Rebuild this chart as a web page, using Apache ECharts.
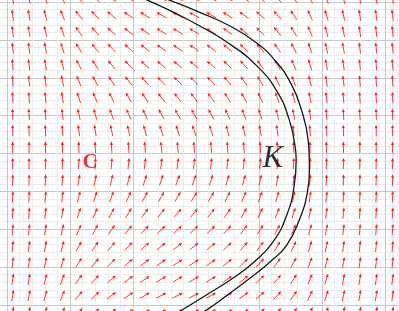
<!DOCTYPE html>
<html>
<head>
<meta charset="utf-8">
<script src="https://cdn.jsdelivr.net/npm/echarts@6/dist/echarts.min.js"></script>
<style>
html, body { margin: 0; padding: 0; background: #fff; }
#main { width: 399px; height: 311px; }
</style>
</head>
<body>
<div id="main"></div>
<script>
// arrow grid (data units)
var colX = [-2.91, -2.65, -2.39, -2.12, -1.86, -1.60, -1.34, -1.07, -0.81, -0.55, -0.29, -0.03,
            0.24, 0.50, 0.76, 1.02, 1.29, 1.55, 1.81, 2.07, 2.34, 2.60, 2.86, 3.12];
var rowY = [4.10, 3.66, 3.23, 2.79, 2.35, 1.92, 1.48, 1.04, 0.61, 0.17,
            -0.26, -0.70, -1.14, -1.57, -2.01, -2.45, -2.88, -3.32, -3.75, -4.19];
// arrow tilt in degrees from straight up (+ = leans left), one row per rowY
var angles = [
  [9, 12, 17, 24, 42, 49, 54, 59, 62, 64, 65, 65, 64, 61, 57, 52, 46, 38, 28, 19, 14, 11, 9, 8],
  [8, 10, 15, 22, 39, 46, 51, 56, 59, 61, 63, 63, 61, 58, 54, 49, 42, 35, 25, 17, 12, 10, 8, 7],
  [7, 9, 14, 20, 35, 42, 48, 52, 56, 58, 60, 60, 58, 55, 50, 45, 39, 31, 23, 15, 11, 9, 7, 6],
  [6, 8, 12, 17, 32, 38, 44, 48, 52, 54, 56, 56, 54, 51, 46, 41, 35, 28, 20, 13, 10, 8, 6, 6],
  [5, 7, 10, 15, 27, 33, 39, 43, 47, 50, 51, 51, 50, 46, 41, 36, 30, 24, 17, 11, 8, 6, 5, 5],
  [4, 5, 8, 12, 23, 28, 33, 38, 41, 44, 46, 46, 44, 40, 35, 31, 26, 20, 14, 9, 7, 5, 4, 4],
  [3, 4, 6, 9, 18, 23, 27, 31, 34, 37, 38, 38, 37, 33, 29, 25, 20, 16, 11, 7, 5, 4, 3, 3],
  [2, 3, 5, 7, 13, 16, 20, 23, 26, 28, 29, 29, 28, 25, 21, 18, 15, 11, 8, 5, 4, 3, 2, 2],
  [1, 2, 3, 4, 8, 10, 12, 14, 16, 17, 18, 18, 17, 15, 13, 11, 9, 7, 5, 3, 2, 2, 1, 1],
  [0, 0, 1, 1, 2, 3, 3, 4, 4, 5, 5, 5, 5, 4, 4, 3, 2, 2, 1, 1, 1, 0, 0, 0],
  [-1, -1, -1, -2, -3, -4, -5, -6, -7, -7, -8, -8, -7, -7, -6, -5, -4, -3, -2, -1, -1, -1, -1, -1],
  [-2, -2, -3, -4, -9, -11, -13, -16, -18, -19, -20, -20, -19, -17, -15, -12, -10, -8, -5, -3, -2, -2, -2, -1],
  [-3, -3, -5, -7, -14, -18, -21, -25, -28, -30, -31, -31, -30, -27, -23, -20, -16, -12, -8, -6, -4, -3, -3, -2],
  [-4, -4, -7, -10, -19, -24, -28, -32, -36, -38, -40, -40, -38, -35, -30, -26, -21, -17, -12, -8, -5, -4, -4, -3],
  [-5, -6, -9, -13, -24, -29, -34, -39, -43, -45, -47, -47, -45, -42, -37, -32, -27, -21, -15, -10, -7, -5, -5, -4],
  [-6, -7, -10, -15, -28, -35, -40, -44, -48, -51, -52, -52, -51, -47, -42, -37, -31, -25, -18, -12, -8, -7, -6, -5],
  [-7, -8, -12, -18, -32, -39, -44, -49, -53, -55, -57, -57, -55, -52, -47, -42, -36, -29, -21, -14, -10, -8, -7, -6],
  [-8, -9, -14, -20, -36, -43, -49, -53, -57, -59, -60, -60, -59, -56, -51, -46, -40, -32, -23, -16, -11, -9, -8, -7],
  [-9, -11, -16, -22, -40, -46, -52, -56, -60, -62, -63, -63, -62, -59, -54, -49, -43, -35, -26, -18, -13, -10, -9, -7],
  [-10, -12, -17, -25, -43, -50, -55, -59, -63, -65, -66, -66, -65, -62, -57, -52, -46, -39, -29, -20, -14, -11, -10, -8]
];
// the two black curves of K
var curveInner = [[-1.21, 4.39], [-0.78, 4.06], [-0.33, 3.71], [0.06, 3.37], [0.54, 2.89], [0.97, 2.31],
                  [1.29, 1.63], [1.48, 0.89], [1.57, 0.22], [1.59, -0.17], [1.56, -0.83], [1.44, -1.63],
                  [1.22, -2.34], [0.94, -2.84], [0.59, -3.29], [0.19, -3.71], [-0.25, -4.16], [-0.65, -4.53]];
var curveOuter = [[-0.89, 4.36], [-0.43, 4.06], [0.06, 3.73], [0.54, 3.37], [0.94, 2.95], [1.25, 2.47],
                  [1.51, 1.84], [1.68, 1.12], [1.78, 0.36], [1.80, -0.25], [1.76, -1.10], [1.65, -1.71],
                  [1.44, -2.42], [1.17, -2.87], [0.86, -3.29], [0.52, -3.71], [0.19, -4.11], [-0.21, -4.51]];
var labelK = ['K', 1.22, -0.15];
var labelC = ['C', -1.68, -0.23];

var myChart = echarts.init(document.getElementById('main'));

var arrowData = [];
rowY.forEach(function (y, r) {
    colX.forEach(function (x, c) {
        arrowData.push([x, y, angles[r][c]]);
    });
});

function renderArrow(params, api) {
    var p = api.coord([api.value(0), api.value(1)]);
    var a = api.value(2) * Math.PI / 180;
    var dx = -Math.sin(a), dy = -Math.cos(a);
    var len = 11.5, head = 3.6, half = 1.6;
    var x0 = p[0] - dx * len / 2, y0 = p[1] - dy * len / 2;
    var x1 = p[0] + dx * len / 2, y1 = p[1] + dy * len / 2;
    var bx = x1 - dx * head, by = y1 - dy * head;
    return {
        type: 'group',
        children: [{
            type: 'line',
            shape: { x1: x0, y1: y0, x2: bx, y2: by },
            style: { stroke: '#ff2020', lineWidth: 0.9 }
        }, {
            type: 'polygon',
            shape: { points: [[x1, y1], [bx - dy * half, by + dx * half], [bx + dy * half, by - dx * half]] },
            style: { fill: '#ff2020' }
        }]
    };
}

var option = {
    animation: false,
    // the plot area runs past the canvas so that integer grid lines land where they are in the picture
    grid: { left: -56, right: -49, top: -35.7, bottom: -31.8, outerBoundsMode: 'none' },
    xAxis: {
        type: 'value', min: -4, max: 4, interval: 1,
        axisLine: { show: false }, axisTick: { show: false }, axisLabel: { show: false },
        splitLine: { show: true, lineStyle: { color: '#c9c9c9', width: 1 } },
        minorTick: { show: false, splitNumber: 5 },
        minorSplitLine: { show: true, lineStyle: { color: '#ededed', width: 1 } }
    },
    yAxis: {
        type: 'value', min: -5, max: 5, interval: 1,
        axisLine: { show: false }, axisTick: { show: false }, axisLabel: { show: false },
        splitLine: { show: true, lineStyle: { color: '#c9c9c9', width: 1 } },
        minorTick: { show: false, splitNumber: 5 },
        minorSplitLine: { show: true, lineStyle: { color: '#ededed', width: 1 } }
    },
    series: [{
        type: 'custom',
        renderItem: renderArrow,
        data: arrowData,
        z: 2
    }, {
        type: 'line',
        data: curveInner,
        smooth: true,
        symbol: 'none',
        lineStyle: { color: '#151515', width: 1.3 },
        z: 3
    }, {
        type: 'line',
        data: curveOuter,
        smooth: true,
        symbol: 'none',
        lineStyle: { color: '#151515', width: 1.3 },
        z: 3
    }, {
        type: 'scatter',
        symbolSize: 0,
        z: 4,
        data: [{
            value: [labelK[1], labelK[2]],
            label: {
                show: true, position: 'inside', formatter: labelK[0],
                fontFamily: 'Liberation Serif', fontStyle: 'italic', fontSize: 31, color: '#000'
            }
        }, {
            value: [labelC[1], labelC[2]],
            label: {
                show: true, position: 'inside', formatter: labelC[0],
                fontFamily: 'Liberation Serif', fontWeight: 'bold', fontSize: 21, color: '#e8000b'
            }
        }]
    }]
};
myChart.setOption(option);
</script>
</body>
</html>
